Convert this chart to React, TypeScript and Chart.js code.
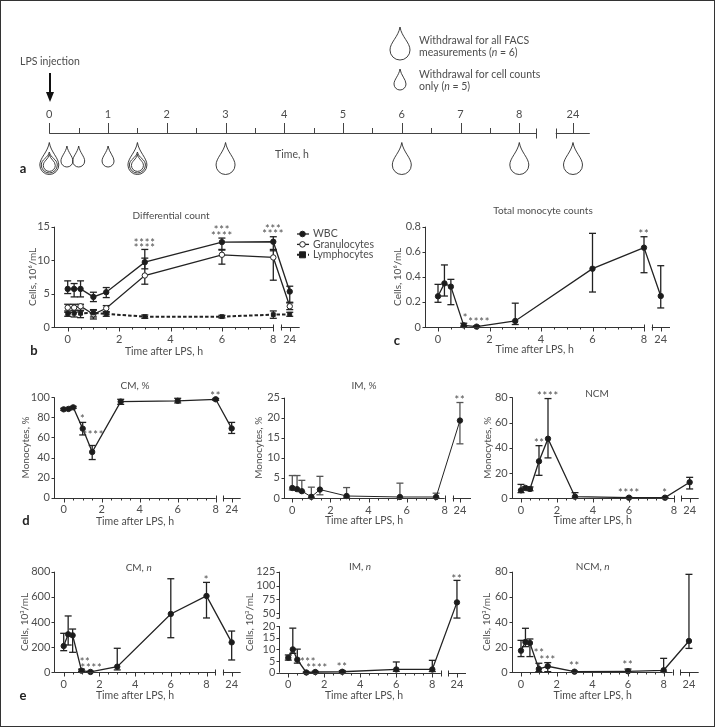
import React, { useEffect, useRef } from "react";
import { Chart, registerables } from "chart.js";

Chart.register(...registerables);

const FONT = "Lato";
const TEXT = "#4d4d4d";
const INK = "#222";

// ---------- data ----------
const hours = [0, 0.25, 0.5, 1, 1.5, 3, 6, 8, 24];

const wbc = [5.7, 5.7, 5.7, 4.5, 5.2, 9.7, 12.7, 12.75, 5.3];
const wbcHi = [6.9, 6.5, 6.9, 5.2, 5.9, 10.3, 13.3, 13.5, 6.1];
const wbcLo = [5.0, 4.5, 4.5, 3.8, 4.4, 8.7, 11.5, 11.4, 3.7];
const gran = [2.9, 2.9, 3.1, 1.9, 2.8, 7.7, 10.8, 10.4, 3.1];
const granHi = [3.4, 3.4, 3.4, 2.5, 3.2, 11.6, 11.6, 11.6, 3.6];
const granLo = [2.2, 2.2, 2.4, 1.2, 2.2, 6.4, 9.4, 7.0, 2.6];
const lymph = [2.0, 2.05, 2.05, 2.1, 1.95, 1.55, 1.55, 1.85, 1.9];
const lymphHi = [2.4, 2.5, 2.5, 2.6, 2.3, 1.8, 1.75, 2.4, 2.2];
const lymphLo = [1.6, 1.5, 1.4, 1.5, 1.6, 1.3, 1.35, 1.3, 1.6];

const mono = [0.245, 0.348, 0.322, 0.013, 0.003, 0.048, 0.465, 0.633, 0.247];
const monoHi = [0.34, 0.495, 0.38, 0.03, 0.01, 0.19, 0.747, 0.72, 0.489];
const monoLo = [0.197, 0.247, 0.178, 0.005, 0, 0.02, 0.279, 0.433, 0.152];

const cmPct = [88, 88.4, 90, 68.8, 45.5, 95.7, 96.5, 98, 69];
const cmPctHi = [89, 89.4, 91, 75, 52, 98, 99, 98.8, 75];
const cmPctLo = [87, 87.4, 89, 62.5, 38, 93, 94.4, 97, 64];

const imPctHours = [0, 0.25, 0.5, 1, 1.45, 2.85, 5.65, 7.55, 24];
const imPct = [2.5, 2.2, 1.7, 0.3, 2.1, 0.5, 0.25, 0.25, 19.3];
const imPctHi = [5.6, 5.6, 4.4, 2.7, 5.4, 2.6, 3.7, 1.2, 23.8];
const imPctLo = [2.0, 1.9, 1.5, 0.1, 0.8, 0.2, 0, 0, 13.5];

const ncmPctHours = [0, 0.25, 0.5, 1, 1.5, 3, 6, 8, 24];
const ncmPct = [6.3, 8.2, 7.4, 29.3, 47.2, 1.3, 0.5, 0.5, 12.7];
const ncmPctHi = [11, 9, 9, 41.7, 79, 4.5, 0.8, 0.8, 16.6];
const ncmPctLo = [4.5, 7, 6, 18.2, 32, 0, 0.2, 0.2, 7.4];

const cmN = [209, 302, 294, 13, 3, 45, 464, 607, 238];
const cmNHi = [310, 448, 344, 25, 8, 191, 744, 715, 328];
const cmNLo = [172, 217, 159, 5, 0, 19, 275, 432, 98];

const imN = [6.4, 10, 5.6, 0.1, 0.3, 0.4, 1.4, 1.4, 69.8];
const imNHi = [7.6, 19.1, 10.1, 0.3, 0.6, 0.9, 4.6, 5.3, 109.4];
const imNLo = [5.4, 8.3, 4.1, 0, 0.1, 0.1, 0.6, 0.5, 41.6];

const ncmN = [17.2, 24.1, 23.3, 2.6, 4.8, 0.5, 0.8, 1.6, 24.9];
const ncmNHi = [25.4, 35, 26.5, 7.2, 7.7, 1, 2.6, 11.1, 77.9];
const ncmNLo = [12.5, 20.4, 12.5, 0.5, 0.5, 0.2, 0.2, 0.3, 19];

const timelineHours = [0, 1, 2, 3, 4, 5, 6, 7, 8, 24];
const timelineHalfHours = [0.5, 1.5, 2.5, 3.5, 4.5, 5.5, 6.5, 7.5];
const largeDropHours = [0, 1.5, 3, 6, 8, 24];
const smallDropHours = [0.3, 0.5, 1];
const nestedDropHours = [0, 1.5];
const minorHours = Array.from({ length: 19 }, (_, i) => i / 2);

// ---------- layout ----------
type Seg = { t: string; i?: boolean };
type Star = { x: number; y: number; t: string };
type Series = { label?: string; hours: number[]; y: number[]; hi: number[]; lo: number[]; style?: string };

type Panel = {
  left: number; right: number; top: number; bottom: number; x0: number; pph: number;
  yMax: number; yTicks: number[]; yLabels: string[]; yTitle: string; yTitleX: number;
  xTicks: number[]; xLabels: string[]; p24: number; breakA: number; breakB: number;
  title: Seg[]; titleX: number; titleY: number; xTitleX: number; xTitleY: number;
  letter?: string; letterX?: number; letterY?: number;
  series: Series[]; stars: Star[]; toV?: (v: number) => number; yBreak?: number[]; legend?: boolean; thin?: boolean;
};

const brokenY = (v: number) => (v <= 20 ? v : 25.43 + (v - 50) * 0.2381);
const xLabels = ["0", "2", "4", "6", "8", "24"];

const panels: Panel[] = [
  {
    left: 54, right: 299.7, top: 226.7, bottom: 327, x0: 67.7, pph: 25.7, yMax: 15,
    yTicks: [0, 5, 10, 15], yLabels: ["0", "5", "10", "15"], yTitle: "Cells, 10⁶/mL", yTitleX: 33,
    xTicks: [0, 2, 4, 6, 8, 8.64], xLabels, p24: 8.64, breakA: 8, breakB: 8.29,
    title: [{ t: "Differential count" }], titleX: 171, titleY: 216, xTitleX: 164, xTitleY: 352,
    letter: "b", letterX: 34, letterY: 351, legend: true,
    series: [
      { label: "Lymphocytes", hours, y: lymph, hi: lymphHi, lo: lymphLo, style: "lymph" },
      { label: "Granulocytes", hours, y: gran, hi: granHi, lo: granLo, style: "open" },
      { label: "WBC", hours, y: wbc, hi: wbcHi, lo: wbcLo },
    ],
    stars: [
      { x: 3, y: 12.9, t: "****" }, { x: 3, y: 12.1, t: "****" },
      { x: 6, y: 14.8, t: "***" }, { x: 6, y: 13.95, t: "****" },
      { x: 8, y: 14.9, t: "***" }, { x: 8, y: 14.15, t: "****" },
    ],
  },
  {
    left: 425, right: 670, top: 226.7, bottom: 327, x0: 438, pph: 25.75, yMax: 0.8,
    yTicks: [0, 0.2, 0.4, 0.6, 0.8], yLabels: ["0", "0.2", "0.4", "0.6", "0.8"], yTitle: "Cells, 10⁶/mL", yTitleX: 398,
    xTicks: [0, 2, 4, 6, 8, 8.65], xLabels, p24: 8.65, breakA: 8, breakB: 8.3,
    title: [{ t: "Total monocyte counts" }], titleX: 543, titleY: 211, xTitleX: 534.7, xTitleY: 349.7,
    letter: "c", letterX: 397, letterY: 341,
    series: [{ hours, y: mono, hi: monoHi, lo: monoLo }],
    stars: [{ x: 8, y: 0.755, t: "**" }, { x: 1.07, y: 0.09, t: "*" }, { x: 1.6, y: 0.053, t: "****" }],
  },
  {
    left: 54, right: 240.7, top: 397.3, bottom: 497.7, x0: 63.7, pph: 19, yMax: 100,
    yTicks: [0, 20, 40, 60, 80, 100], yLabels: ["0", "20", "40", "60", "80", "100"], yTitle: "Monocytes, %", yTitleX: 25.7,
    xTicks: [0, 2, 4, 6, 8, 8.84], xLabels, p24: 8.84, breakA: 8, breakB: 8.38,
    title: [{ t: "CM, %" }], titleX: 135, titleY: 386, xTitleX: 135, xTitleY: 522,
    letter: "d", letterX: 26, letterY: 521,
    series: [{ hours, y: cmPct, hi: cmPctHi, lo: cmPctLo }],
    stars: [{ x: 1, y: 80, t: "*" }, { x: 1.56, y: 64, t: "****" }, { x: 8, y: 103.6, t: "**" }],
  },
  {
    left: 284, right: 471, top: 397.7, bottom: 498, x0: 292.3, pph: 19.05, yMax: 25,
    yTicks: [0, 5, 10, 15, 20, 25], yLabels: ["0", "5", "10", "15", "20", "25"], yTitle: "Monocytes, %", yTitleX: 259,
    xTicks: [0, 2, 4, 6, 8, 8.8], xLabels, p24: 8.8, breakA: 8, breakB: 8.42,
    title: [{ t: "IM, %" }], titleX: 364, titleY: 386, xTitleX: 364, xTitleY: 521, thin: true,
    series: [{ hours: imPctHours, y: imPct, hi: imPctHi, lo: imPctLo }],
    stars: [{ x: 24, y: 25, t: "**" }],
  },
  {
    left: 511.7, right: 698.7, top: 397.3, bottom: 498.3, x0: 521, pph: 18, yMax: 80,
    yTicks: [0, 20, 40, 60, 80], yLabels: ["0", "20", "40", "60", "80"], yTitle: "Monocytes, %", yTitleX: 487.7,
    xTicks: [0, 2, 4, 6, 8.5, 9.37], xLabels, p24: 9.37, breakA: 8.5, breakB: 8.89,
    title: [{ t: "NCM" }], titleX: 597, titleY: 393.7, xTitleX: 592.7, xTitleY: 520.7,
    series: [{ hours: ncmPctHours, y: ncmPct, hi: ncmPctHi, lo: ncmPctLo }],
    stars: [{ x: 1.02, y: 45, t: "**" }, { x: 1.5, y: 82.3, t: "****" }, { x: 6, y: 6, t: "****" }, { x: 8, y: 6, t: "*" }],
  },
  {
    left: 54.3, right: 240.7, top: 571.7, bottom: 672.3, x0: 63.7, pph: 17.85, yMax: 800,
    yTicks: [0, 200, 400, 600, 800], yLabels: ["0", "200", "400", "600", "800"], yTitle: "Cells, 10³/mL", yTitleX: 25,
    xTicks: [0, 2, 4, 6, 8, 9.41], xLabels, p24: 9.41, breakA: 8.5, breakB: 8.92,
    title: [{ t: "CM, " }, { t: "n", i: true }], titleX: 138.7, titleY: 568, xTitleX: 135, xTitleY: 695.7,
    letter: "e", letterX: 23, letterY: 696,
    series: [{ hours, y: cmN, hi: cmNHi, lo: cmNLo }],
    stars: [{ x: 1.2, y: 98, t: "**" }, { x: 1.56, y: 50, t: "****" }, { x: 8, y: 752, t: "*" }],
  },
  {
    left: 279.3, right: 466, top: 571.7, bottom: 672.7, x0: 288.3, pph: 18, yMax: 43.3,
    yTicks: [0, 5, 10, 15, 20, 50, 75, 100, 125], yLabels: ["0", "5", "10", "15", "20", "50", "75", "100", "125"],
    yTitle: "Cells, 10³/mL", yTitleX: 250, toV: brokenY, yBreak: [20, 23.3],
    xTicks: [0, 2, 4, 6, 8, 9.37], xLabels, p24: 9.37, breakA: 8.47, breakB: 8.89,
    title: [{ t: "IM, " }, { t: "n", i: true }], titleX: 360, titleY: 567, xTitleX: 364, xTitleY: 695.7,
    series: [{ hours, y: imN, hi: imNHi, lo: imNLo }],
    stars: [{ x: 1.1, y: 5.4, t: "***" }, { x: 1.6, y: 3, t: "****" }, { x: 3, y: 3.3, t: "**" }, { x: 24, y: 116, t: "**" }],
  },
  {
    left: 511.7, right: 698.7, top: 571.7, bottom: 672.3, x0: 521, pph: 17.83, yMax: 80,
    yTicks: [0, 20, 40, 60, 80], yLabels: ["0", "20", "40", "60", "80"], yTitle: "Cells, 10³/mL", yTitleX: 487,
    xTicks: [0, 2, 4, 6, 8, 9.42], xLabels, p24: 9.42, breakA: 8.5, breakB: 8.92,
    title: [{ t: "NCM, " }, { t: "n", i: true }], titleX: 592.7, titleY: 567, xTitleX: 592.7, xTitleY: 695.7,
    series: [{ hours, y: ncmN, hi: ncmNHi, lo: ncmNLo }],
    stars: [{ x: 1.02, y: 17.2, t: "**" }, { x: 1.5, y: 11, t: "***" }, { x: 3, y: 6.4, t: "**" }, { x: 6, y: 7.2, t: "**" }],
  },
];

// ---------- helpers ----------
function label(ctx: CanvasRenderingContext2D, segs: Seg[], cx: number, cy: number, size = 10.5, color = TEXT, align = "center", bold = false) {
  ctx.save();
  ctx.fillStyle = color;
  ctx.textBaseline = "middle";
  ctx.textAlign = "left";
  const fonts = segs.map((s) => `${s.i ? "italic " : ""}${bold ? "bold " : ""}${size}px ${FONT}`);
  const widths = segs.map((s, k) => { ctx.font = fonts[k]; return ctx.measureText(s.t).width; });
  const total = widths.reduce((a, b) => a + b, 0);
  let x = align === "center" ? cx - total / 2 : cx;
  segs.forEach((s, k) => { ctx.font = fonts[k]; ctx.fillText(s.t, x, cy); x += widths[k]; });
  ctx.restore();
}

function seg(ctx: CanvasRenderingContext2D, x1: number, y1: number, x2: number, y2: number) {
  ctx.beginPath(); ctx.moveTo(x1, y1); ctx.lineTo(x2, y2); ctx.stroke();
}

function drawDrop(g: CanvasRenderingContext2D, cx: number, cyMid: number, w: number, h: number) {
  const r = w / 2, top = cyMid - h / 2, cy = top + h - r;
  g.save();
  g.strokeStyle = "#2a2a2a";
  g.lineWidth = 0.9;
  g.beginPath();
  g.moveTo(cx, top);
  g.bezierCurveTo(cx + w * 0.08, top + h * 0.3, cx + r, cy - r * 0.75, cx + r, cy);
  g.arc(cx, cy, r, 0, Math.PI);
  g.bezierCurveTo(cx - r, cy - r * 0.75, cx - w * 0.08, top + h * 0.3, cx, top);
  g.stroke();
  g.restore();
}

function panelPlugin(p: Panel) {
  const map = p.toV || ((v: number) => v);
  const xOf = (h: number) => (h === 24 ? p.p24 : h);
  return {
    id: "panelDecor",
    beforeDatasetsDraw(chart: any) {
      const { ctx, scales: { x, y } } = chart;
      ctx.save();
      ctx.strokeStyle = p.thin ? "#555" : INK;
      ctx.lineWidth = 1.3;
      p.series.forEach((s) => {
        s.hours.forEach((h, i) => {
          const px = x.getPixelForValue(xOf(h));
          const hi = y.getPixelForValue(map(s.hi[i]));
          const lo = y.getPixelForValue(map(s.lo[i]));
          seg(ctx, px, hi, px, lo);
          seg(ctx, px - 3.5, hi, px + 3.5, hi);
          seg(ctx, px - 3.5, lo, px + 3.5, lo);
        });
      });
      ctx.restore();
    },
    afterDraw(chart: any) {
      const { ctx, scales: { x, y } } = chart;
      ctx.save();
      ctx.strokeStyle = "#333";
      ctx.lineWidth = 1;
      const base = Math.round(p.bottom) + 0.5;
      const lx = Math.round(p.left) + 0.5;
      // x axis, broken
      seg(ctx, p.left, base, x.getPixelForValue(p.breakA), base);
      seg(ctx, x.getPixelForValue(p.breakB), base, p.right, base);
      minorHours.forEach((m) => {
        if (m <= p.breakA) {
          const px = Math.round(x.getPixelForValue(m)) + 0.5;
          seg(ctx, px, base, px, base + 2);
        }
      });
      p.xTicks.forEach((t) => {
        const px = Math.round(x.getPixelForValue(t)) + 0.5;
        seg(ctx, px, base, px, base + 4);
      });
      [p.breakA, p.breakB].forEach((t) => {
        const px = Math.round(x.getPixelForValue(t)) + 0.5;
        seg(ctx, px, base - 3, px, base + 3);
      });
      // y axis, optionally broken
      if (p.yBreak) {
        const a = y.getPixelForValue(p.yBreak[0]), b = y.getPixelForValue(p.yBreak[1]);
        seg(ctx, lx, p.bottom, lx, a);
        seg(ctx, lx, b, lx, p.top);
        seg(ctx, lx - 3, b, lx, b);
      } else {
        seg(ctx, lx, base, lx, p.top);
      }
      p.yTicks.forEach((t) => {
        const py = Math.round(y.getPixelForValue(map(t))) + 0.5;
        seg(ctx, lx - 3, py, lx, py);
      });
      ctx.restore();

      label(ctx, p.title, p.titleX, p.titleY, 10);
      label(ctx, [{ t: "Time after LPS, h" }], p.xTitleX, p.xTitleY, 10.5);
      if (p.letter) label(ctx, [{ t: p.letter }], p.letterX!, p.letterY!, 13, "#222", "center", true);

      // significance marks
      ctx.save();
      ctx.fillStyle = TEXT;
      ctx.font = `11px ${FONT}`;
      ctx.textAlign = "center";
      ctx.textBaseline = "alphabetic";
      (ctx as any).letterSpacing = "0.8px";
      p.stars.forEach((s) => {
        ctx.fillText(s.t, x.getPixelForValue(xOf(s.x)), y.getPixelForValue(map(s.y)) + 6);
      });
      ctx.restore();

      // legend
      if (p.legend) {
        const ordered = [...chart.data.datasets].reverse();
        ordered.forEach((d: any, i: number) => {
          const ly = 234 + i * 10.4;
          ctx.save();
          ctx.strokeStyle = INK;
          ctx.lineWidth = d.borderWidth;
          ctx.setLineDash(d.borderDash || []);
          seg(ctx, 297, ly, 309, ly);
          ctx.setLineDash([]);
          ctx.lineWidth = 1;
          ctx.fillStyle = d.pointBackgroundColor;
          ctx.beginPath();
          if (d.pointStyle === "rect") ctx.rect(299.5, ly - 3, 6, 6);
          else ctx.arc(302.5, ly, 2.8, 0, Math.PI * 2);
          ctx.fill(); ctx.stroke();
          ctx.restore();
          label(ctx, [{ t: d.label }], 313, ly, 10.5, TEXT, "left");
        });
      }
    },
  };
}

function panelConfig(p: Panel): any {
  const map = p.toV || ((v: number) => v);
  const xOf = (h: number) => (h === 24 ? p.p24 : h);
  const yFont = { family: FONT, size: 10 };
  const yPad = p.yTitleX - 6;
  return {
    type: "line",
    data: {
      datasets: p.series.map((s) => ({
        label: s.label || p.title.map((t) => t.t).join(""),
        data: s.hours.map((h, i) => ({ x: xOf(h), y: map(s.y[i]) })),
        borderColor: INK,
        borderWidth: s.style === "lymph" ? 2 : p.thin ? 1 : 1.3,
        borderDash: s.style === "lymph" ? [3.5, 2] : [],
        pointRadius: s.style === "lymph" ? 2.7 : 2.7,
        pointBorderWidth: 1,
        pointStyle: s.style === "lymph" ? "rect" : "circle",
        pointBackgroundColor: s.style === "open" ? "#fff" : "#1c1c1c",
        pointBorderColor: INK,
        tension: 0,
        clip: false,
      })),
    },
    options: {
      responsive: false,
      animation: false,
      layout: {
        autoPadding: false,
        padding: { left: yPad, right: 716 - p.right, top: p.top, bottom: 728 - p.bottom - 30 },
      },
      plugins: { legend: { display: false }, tooltip: { enabled: false }, title: { display: false } },
      scales: {
        x: {
          type: "linear",
          min: (p.left - p.x0) / p.pph,
          max: (p.right - p.x0) / p.pph,
          border: { display: false },
          grid: { display: false, drawTicks: true, tickLength: 4 },
          afterFit: (s: any) => { s.height = 30; },
          afterBuildTicks: (s: any) => { s.ticks = p.xTicks.map((value) => ({ value })); },
          ticks: {
            autoSkip: false, maxRotation: 0, minRotation: 0, padding: 1.5, color: TEXT, font: { family: FONT, size: 11 },
            callback: (_v: any, i: number) => p.xLabels[i],
          },
        },
        y: {
          type: "linear",
          min: 0,
          max: p.yMax,
          border: { display: false },
          grid: { display: false, drawTicks: true, tickLength: 3 },
          afterFit: (s: any) => { s.width = p.left - yPad; },
          afterBuildTicks: (s: any) => { s.ticks = p.yTicks.map((t) => ({ value: map(t) })); },
          ticks: {
            autoSkip: false, padding: 1, color: TEXT, font: { family: FONT, size: 11 },
            callback: (_v: any, i: number) => p.yLabels[i],
          },
          title: { display: true, text: p.yTitle, color: TEXT, font: yFont, padding: 0 },
        },
      },
    },
    plugins: [panelPlugin(p)],
  };
}

// timeline, panel a
const TL = { left: 20, right: 600, top: 133.7, bottom: 178, x0: 49.3, pph: 58.75, p24: 8.914, breakA: 8.284, breakB: 8.62, end: 9.2 };
const DROP_LARGE = { w: 19, h: 32 };
const DROP_MEDIUM = { w: 16, h: 21 };
const DROP_INNER = { w: 12, h: 17 };
const DROP_SMALL = { w: 12, h: 21 };

function timelineConfig(): any {
  const xOf = (h: number) => (h === 24 ? TL.p24 : h);
  const dropSet = (hs: number[], level: number, size: { w: number; h: number }) => ({
    data: hs.map((h) => ({ x: xOf(h), y: level })),
    showLine: false,
    pointRadius: 0,
    dropSize: size,
    clip: false,
  });
  return {
    type: "line",
    data: {
      datasets: [
        dropSet(largeDropHours, 24.8, DROP_LARGE),
        dropSet(smallDropHours, 22.8, DROP_SMALL),
        dropSet(nestedDropHours, 28.8, DROP_MEDIUM),
        dropSet(nestedDropHours, 29.2, DROP_INNER),
      ],
    },
    options: {
      responsive: false,
      animation: false,
      layout: { autoPadding: false, padding: { left: TL.left, right: 716 - TL.right, top: TL.top - 30, bottom: 728 - TL.bottom } },
      plugins: { legend: { display: false }, tooltip: { enabled: false } },
      scales: {
        x: {
          type: "linear",
          position: "top",
          min: (TL.left - TL.x0) / TL.pph,
          max: (TL.right - TL.x0) / TL.pph,
          border: { display: false },
          grid: { display: false, drawTicks: true, tickLength: 11 },
          afterFit: (s: any) => { s.height = 30; },
          afterBuildTicks: (s: any) => { s.ticks = timelineHours.map((h) => ({ value: xOf(h) })); },
          ticks: {
            autoSkip: false, maxRotation: 0, minRotation: 0, padding: 2, color: TEXT, font: { family: FONT, size: 11 },
            callback: (_v: any, i: number) => String(timelineHours[i]),
          },
        },
        y: { type: "linear", display: false, reverse: true, min: 0, max: 44.3 },
      },
    },
    plugins: [{
      id: "timelineDecor",
      afterDraw(chart: any) {
        const { ctx, scales: { x } } = chart;
        ctx.save();
        ctx.strokeStyle = "#444";
        ctx.lineWidth = 1;
        const base = 133.5;
        seg(ctx, x.getPixelForValue(0), base, x.getPixelForValue(TL.breakA), base);
        seg(ctx, x.getPixelForValue(TL.breakB), base, x.getPixelForValue(TL.end), base);
        timelineHours.forEach((h) => { const px = Math.round(x.getPixelForValue(xOf(h))) + 0.5; seg(ctx, px, base, px, 123); });
        timelineHalfHours.forEach((h) => { const px = Math.round(x.getPixelForValue(h)) + 0.5; seg(ctx, px, base, px, 128); });
        [TL.breakA, TL.breakB].forEach((h) => { const px = Math.round(x.getPixelForValue(h)) + 0.5; seg(ctx, px, base - 5, px, base + 5); });
        // arrow
        ctx.strokeStyle = "#111"; ctx.fillStyle = "#111"; ctx.lineWidth = 2;
        seg(ctx, 50, 73, 50, 94);
        ctx.beginPath(); ctx.moveTo(46, 92); ctx.lineTo(54, 92); ctx.lineTo(50, 102); ctx.closePath(); ctx.fill();
        ctx.restore();
        // drops, placed by the scales through each dataset's points
        chart.data.datasets.forEach((d: any, i: number) => {
          chart.getDatasetMeta(i).data.forEach((pt: any) => drawDrop(ctx, pt.x, pt.y, d.dropSize.w, d.dropSize.h));
        });
        drawDrop(ctx, 400, 43.5, 20, 33);
        drawDrop(ctx, 400, 79.5, DROP_SMALL.w, DROP_SMALL.h);
        label(ctx, [{ t: "LPS injection" }], 20, 62, 10.5, TEXT, "left");
        label(ctx, [{ t: "Time, h" }], 292, 155, 10.5);
        label(ctx, [{ t: "Withdrawal for all FACS" }], 419, 41, 10.5, TEXT, "left");
        label(ctx, [{ t: "measurements (" }, { t: "n", i: true }, { t: " = 6)" }], 419, 53, 10.5, TEXT, "left");
        label(ctx, [{ t: "Withdrawal for cell counts" }], 419, 75, 10.5, TEXT, "left");
        label(ctx, [{ t: "only (" }, { t: "n", i: true }, { t: " = 5)" }], 419, 87, 10.5, TEXT, "left");
        label(ctx, [{ t: "a" }], 23, 169, 13, "#222", "center", true);
      },
    }],
  };
}

function Canvas({ make }: { make: () => any }) {
  const ref = useRef<HTMLCanvasElement>(null);
  useEffect(() => {
    const chart = new Chart(ref.current!, make());
    return () => chart.destroy();
  }, [make]);
  return <canvas ref={ref} width={716} height={728} style={{ position: "absolute", left: 0, top: 0, display: "block" }} />;
}

const makers = [timelineConfig, ...panels.map((p) => () => panelConfig(p))];

export default function App() {
  return (
    <div style={{ position: "fixed", left: 0, top: 0, width: 716, height: 728, background: "#fff", overflow: "hidden" }}>
      {makers.map((m, i) => <Canvas key={i} make={m} />)}
      <div style={{ position: "absolute", left: 0, top: 0, width: 715, height: 727, boxSizing: "border-box", border: "1px solid #333", pointerEvents: "none" }} />
    </div>
  );
}
